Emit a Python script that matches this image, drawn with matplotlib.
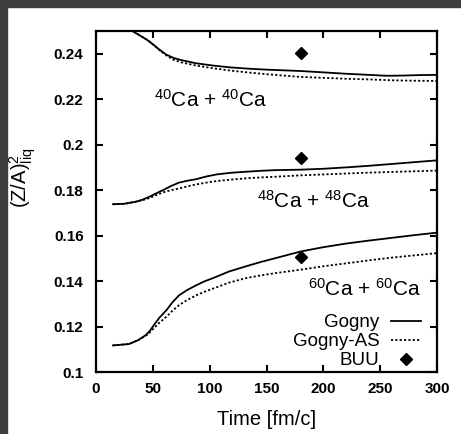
import matplotlib.pyplot as plt
from matplotlib.patches import Rectangle
from matplotlib.lines import Line2D

plt.rcParams['font.family'] = ['Liberation Sans', 'DejaVu Sans']
plt.rcParams['mathtext.fontset'] = 'custom'
plt.rcParams['mathtext.rm'] = 'Liberation Sans'
plt.rcParams['mathtext.it'] = 'Liberation Sans:italic'

# 40Ca + 40Ca
t_40 = [15, 27, 32, 38, 45, 51, 56, 62, 68, 75, 88, 103, 118, 135, 150, 165, 180, 200, 220, 240, 256, 270, 285, 300]
gogny_40 = [0.2515, 0.2512, 0.2500, 0.2482, 0.2461, 0.2438, 0.2417, 0.2396, 0.2382, 0.2372, 0.2358, 0.2348, 0.2340, 0.2334, 0.2330, 0.2327, 0.2324, 0.2318, 0.2312, 0.2307, 0.2303, 0.2304, 0.2306, 0.2307]
gognyas_40 = [0.2515, 0.2512, 0.2500, 0.2482, 0.2461, 0.2437, 0.2415, 0.2392, 0.2374, 0.2362, 0.2348, 0.2336, 0.2326, 0.2317, 0.2310, 0.2304, 0.2298, 0.2294, 0.2290, 0.2287, 0.2284, 0.2282, 0.2281, 0.2280]

# 48Ca + 48Ca
t_48 = [15, 25, 35, 41, 47, 53, 59, 66, 73, 80, 88, 97, 106, 118, 132, 145, 158, 180, 200, 220, 240, 260, 280, 300]
gogny_48 = [0.1738, 0.1740, 0.1749, 0.1758, 0.1771, 0.1786, 0.1800, 0.1818, 0.1833, 0.1841, 0.1848, 0.1860, 0.1869, 0.1876, 0.1881, 0.1885, 0.1888, 0.1890, 0.1894, 0.1900, 0.1907, 0.1915, 0.1923, 0.1931]
gognyas_48 = [0.1738, 0.1740, 0.1749, 0.1756, 0.1765, 0.1778, 0.1790, 0.1800, 0.1807, 0.1816, 0.1825, 0.1833, 0.1840, 0.1846, 0.1852, 0.1856, 0.1859, 0.1865, 0.1869, 0.1873, 0.1877, 0.1880, 0.1883, 0.1886]

# 60Ca + 60Ca
t_60 = [15, 29, 37, 44, 48, 51, 56, 62, 67, 73, 80, 88, 95, 103, 117, 132, 145, 158, 180, 200, 220, 240, 260, 280, 300]
gogny_60 = [0.1117, 0.1123, 0.1140, 0.1163, 0.1185, 0.1207, 0.1240, 0.1272, 0.1305, 0.1337, 0.1360, 0.1381, 0.1398, 0.1413, 0.1442, 0.1465, 0.1484, 0.1501, 0.1530, 0.1549, 0.1565, 0.1578, 0.1590, 0.1602, 0.1613]
gognyas_60 = [0.1117, 0.1123, 0.1140, 0.1160, 0.1177, 0.1193, 0.1218, 0.1243, 0.1268, 0.1294, 0.1316, 0.1337, 0.1352, 0.1367, 0.1393, 0.1413, 0.1425, 0.1435, 0.1450, 0.1465, 0.1478, 0.1491, 0.1503, 0.1513, 0.1523]

# BUU points
t_buu = [180, 180, 180]
buu = [0.2402, 0.1942, 0.1504]

fig = plt.figure(figsize=(4.61, 4.34), dpi=100)
# dark scan border on the top and left
fig.patches.append(Rectangle((0, 1 - 7 / 434), 1, 7 / 434, transform=fig.transFigure, color='#3e3e3e', zorder=-1))
fig.patches.append(Rectangle((0, 0), 7 / 461, 1, transform=fig.transFigure, color='#3e3e3e', zorder=-1))

ax = fig.add_axes([96 / 461, 1 - 372 / 434, 341 / 461, 341 / 434])

solid = dict(color='black', lw=1.3, ls='-')
dotted = dict(color='black', lw=1.3, ls=(0, (1.2, 1.2)))

ax.plot(t_40, gogny_40, **solid)
ax.plot(t_40, gognyas_40, **dotted)
ax.plot(t_48, gogny_48, **solid)
ax.plot(t_48, gognyas_48, **dotted)
ax.plot(t_60, gogny_60, **solid)
ax.plot(t_60, gognyas_60, **dotted)
ax.plot(t_buu, buu, 'D', color='black', ms=6.5, ls='none')

ax.text(101, 0.2195, r'$^{40}$Ca + $^{40}$Ca', fontsize=15, ha='center', va='center')
ax.text(191, 0.1755, r'$^{48}$Ca + $^{48}$Ca', fontsize=15, ha='center', va='center')
ax.text(236, 0.1365, r'$^{60}$Ca + $^{60}$Ca', fontsize=15, ha='center', va='center')

handles = [Line2D([], [], **solid),
           Line2D([], [], **dotted),
           Line2D([], [], marker='D', color='black', ms=6.5, ls='none')]
ax.legend(handles, ['Gogny', 'Gogny-AS', 'BUU'], loc='lower right', markerfirst=False,
          frameon=False, fontsize=13.5, handlelength=1.6, handletextpad=0.6,
          labelspacing=0.1, borderaxespad=0.2, bbox_to_anchor=(0.985, -0.025))

ax.set_xlim(0, 300)
ax.set_ylim(0.1, 0.25)
ax.set_xticks([0, 50, 100, 150, 200, 250, 300])
ax.set_yticks([0.1, 0.12, 0.14, 0.16, 0.18, 0.2, 0.22, 0.24])
ax.set_yticklabels(['0.1', '0.12', '0.14', '0.16', '0.18', '0.2', '0.22', '0.24'])
ax.tick_params(direction='in', top=True, right=True, length=5, width=1.5, labelsize=11)
ax.tick_params(axis='x', pad=7)
ax.tick_params(axis='y', pad=9)
plt.setp(ax.get_xticklabels() + ax.get_yticklabels(), fontweight='bold')
for s in ax.spines.values():
    s.set_linewidth(1.6)

ax.set_xlabel('Time [fm/c]', fontsize=14.5)
ax.xaxis.set_label_coords(0.5, -0.11)
ax.set_ylabel(r'(Z/A)$^2_{\rm liq}$', fontsize=14.5)
ax.yaxis.set_label_coords(-0.17, 0.57)

fig.savefig('out.png', dpi=100)
